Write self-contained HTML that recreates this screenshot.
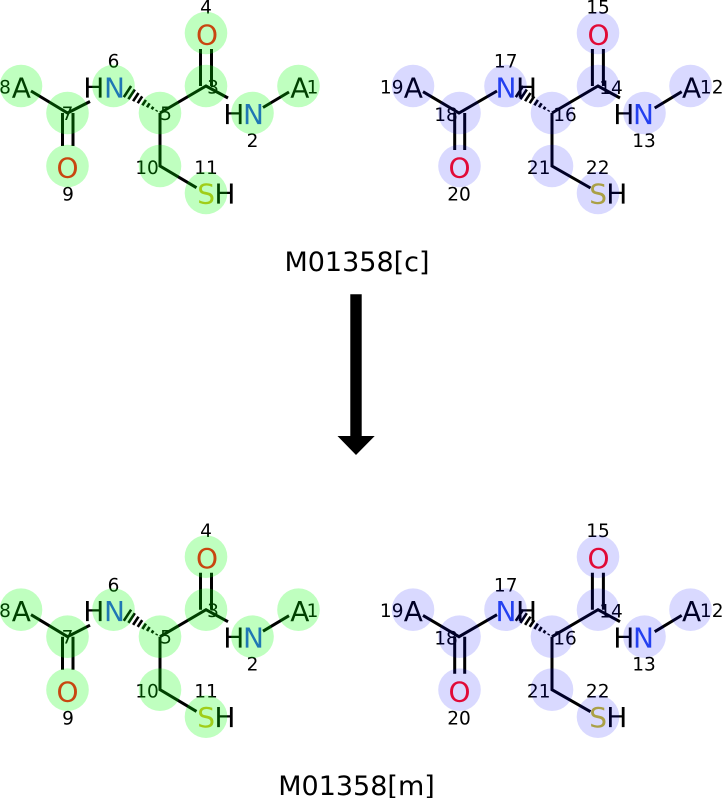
<!DOCTYPE html>
<html><head><meta charset="utf-8"><style>
html,body{margin:0;padding:0;background:#fff}
svg{display:block}
text{font-family:"DejaVu Sans","Liberation Sans",sans-serif}
.l{font-size:28px}.n{font-size:18.5px;text-anchor:middle}
.t{font-size:27px;text-anchor:middle}
.b{stroke:#000;stroke-width:3;fill:none}
.h{stroke:#000;stroke-width:2.6;fill:none}
.g circle{fill:rgba(0,255,0,.25)}
.p circle{fill:rgba(0,0,255,.15)}
</style></head><body>
<svg width="722" height="798" viewBox="0 0 722 798" xmlns="http://www.w3.org/2000/svg">
<rect width="722" height="798" fill="#fff"/>

<!-- top left -->
<g class="g">
<path class="b" d="M31 91L67.5 113L90 101.5M62.5 113V146M73 113V146M160 113L206 86L228 98M200.5 49V86M211.5 49V86M263 107.5L289 92M160 113V166L196.5 187.7"/>
<path class="h" d="M157 110.2L156.3 111.4M153.3 106.8L151.7 109.3M149.6 103.3L147 107.3M145.9 99.9L142.4 105.3M142.2 96.4L137.7 103.2M138.5 93L133.1 101.2M134.8 89.5L128.4 99.2M131.1 86L123.8 97.1"/>
<text class="l" x="11.7" y="97.3">A</text><text class="l" x="83.3" y="97.3">H</text><text class="l" x="223.3" y="124">H</text><text class="l" x="290.2" y="97.3">A</text><text class="l" x="214.4" y="203.5">H</text>
<text class="n" x="206" y="13.3">4</text><text class="n" x="113.5" y="67.7">6</text><text class="n" x="5" y="93.3">8</text><text class="n" x="67.5" y="120">7</text><text class="n" x="213" y="93.3">3</text><text class="n" x="166" y="120">5</text><text class="n" x="312.5" y="93.3">1</text><text class="n" x="252.5" y="147">2</text><text class="n" x="68" y="200.7">9</text><text class="n" x="147" y="174">10</text><text class="n" x="206" y="174">11</text>
<circle cx="206" cy="33" r="21.3"/><circle cx="206" cy="86" r="21.3"/><circle cx="298.5" cy="86" r="21.3"/><circle cx="252.5" cy="113" r="21.3"/><circle cx="160" cy="113" r="21.3"/><circle cx="113.5" cy="86" r="21.3"/><circle cx="67.5" cy="113" r="21.3"/><circle cx="21" cy="86" r="21.3"/><circle cx="67.5" cy="166" r="21.3"/><circle cx="160" cy="166" r="21.3"/><circle cx="206" cy="193" r="21.3"/>
<text class="l" x="104" y="97.3" fill="#1f77b4">N</text><text class="l" x="243" y="124" fill="#1f77b4">N</text><text class="l" x="196" y="44.3" fill="#c84610">O</text><text class="l" x="56.5" y="177.7" fill="#c84610">O</text><text class="l" x="197.3" y="203.5" fill="#a0cd19">S</text>
</g>

<!-- top right -->
<g class="p">
<path class="b" d="M423 91.7L459 113L497 91M454.7 113V150M464.7 113V150M552 113L598 86L620 98M592.4 49V86M603.4 49V86M654.7 108L681.7 91.7M552 113V166L590.5 188"/>
<path class="h" d="M549 110.2L548.3 111.4M545.3 106.8L543.7 109.3M541.6 103.3L539 107.3M537.9 99.9L534.4 105.3M534.2 96.4L529.7 103.2M530.5 93L525.1 101.2M526.8 89.5L520.4 99.2M523.1 86L515.8 97.1"/>
<text class="l" x="403.7" y="97.3">A</text><text class="l" x="516" y="97.3">H</text><text class="l" x="613.3" y="124">H</text><text class="l" x="682" y="97.3">A</text><text class="l" x="606.3" y="203.5">H</text>
<text class="n" x="598" y="13.3">15</text><text class="n" x="505.7" y="67.7">17</text><text class="n" x="391.7" y="93.3">19</text><text class="n" x="446" y="121">18</text><text class="n" x="611" y="94">14</text><text class="n" x="565" y="121">16</text><text class="n" x="711.7" y="93.3">12</text><text class="n" x="644" y="147">13</text><text class="n" x="459" y="200.7">20</text><text class="n" x="538.7" y="174">21</text><text class="n" x="597.7" y="174">22</text>
<circle cx="598" cy="33" r="21.3"/><circle cx="598" cy="86" r="21.3"/><circle cx="690.5" cy="86" r="21.3"/><circle cx="644.5" cy="113" r="21.3"/><circle cx="552" cy="113" r="21.3"/><circle cx="505.5" cy="86" r="21.3"/><circle cx="459.5" cy="113" r="21.3"/><circle cx="413" cy="86" r="21.3"/><circle cx="459.5" cy="166" r="21.3"/><circle cx="552" cy="166" r="21.3"/><circle cx="598" cy="193" r="21.3"/>
<text class="l" x="495.5" y="97.3" fill="#2440f0">N</text><text class="l" x="633" y="124" fill="#2440f0">N</text><text class="l" x="587.5" y="44.3" fill="#e10a37">O</text><text class="l" x="448.5" y="177.7" fill="#e10a37">O</text><text class="l" x="589.3" y="203.5" fill="#aaa046">S</text>
</g>

<text class="t" x="357" y="271">M01358[c]</text>
<path d="M350.3 294.3H361.7V436H374.7L356 455L337.5 436H350.3Z" fill="#000"/>

<!-- bottom left -->
<g class="g" transform="translate(0,523.7)">
<path class="b" d="M31 91L67.5 113L90 101.5M62.5 113V146M73 113V146M160 113L206 86L228 98M200.5 49V86M211.5 49V86M263 107.5L289 92M160 113V166L196.5 187.7"/>
<path class="h" d="M157 110.2L156.3 111.4M153.3 106.8L151.7 109.3M149.6 103.3L147 107.3M145.9 99.9L142.4 105.3M142.2 96.4L137.7 103.2M138.5 93L133.1 101.2M134.8 89.5L128.4 99.2M131.1 86L123.8 97.1"/>
<text class="l" x="11.7" y="97.3">A</text><text class="l" x="83.3" y="97.3">H</text><text class="l" x="223.3" y="124">H</text><text class="l" x="290.2" y="97.3">A</text><text class="l" x="214.4" y="203.5">H</text>
<text class="n" x="206" y="13.3">4</text><text class="n" x="113.5" y="67.7">6</text><text class="n" x="5" y="93.3">8</text><text class="n" x="67.5" y="120">7</text><text class="n" x="213" y="93.3">3</text><text class="n" x="166" y="120">5</text><text class="n" x="312.5" y="93.3">1</text><text class="n" x="252.5" y="147">2</text><text class="n" x="68" y="200.7">9</text><text class="n" x="147" y="174">10</text><text class="n" x="206" y="174">11</text>
<circle cx="206" cy="33" r="21.3"/><circle cx="206" cy="86" r="21.3"/><circle cx="298.5" cy="86" r="21.3"/><circle cx="252.5" cy="113" r="21.3"/><circle cx="160" cy="113" r="21.3"/><circle cx="113.5" cy="86" r="21.3"/><circle cx="67.5" cy="113" r="21.3"/><circle cx="21" cy="86" r="21.3"/><circle cx="67.5" cy="166" r="21.3"/><circle cx="160" cy="166" r="21.3"/><circle cx="206" cy="193" r="21.3"/>
<text class="l" x="104" y="97.3" fill="#1f77b4">N</text><text class="l" x="243" y="124" fill="#1f77b4">N</text><text class="l" x="196" y="44.3" fill="#c84610">O</text><text class="l" x="56.5" y="177.7" fill="#c84610">O</text><text class="l" x="197.3" y="203.5" fill="#a0cd19">S</text>
</g>

<!-- bottom right -->
<g class="p" transform="translate(0,523.7)">
<path class="b" d="M423 91.7L459 113L497 91M454.7 113V150M464.7 113V150M552 113L598 86L620 98M592.4 49V86M603.4 49V86M654.7 108L681.7 91.7M552 113V166L590.5 188"/>
<path class="h" d="M549 110.2L548.3 111.4M545.3 106.8L543.7 109.3M541.6 103.3L539 107.3M537.9 99.9L534.4 105.3M534.2 96.4L529.7 103.2M530.5 93L525.1 101.2M526.8 89.5L520.4 99.2M523.1 86L515.8 97.1"/>
<text class="l" x="403.7" y="97.3">A</text><text class="l" x="516" y="97.3">H</text><text class="l" x="613.3" y="124">H</text><text class="l" x="682" y="97.3">A</text><text class="l" x="606.3" y="203.5">H</text>
<text class="n" x="598" y="13.3">15</text><text class="n" x="505.7" y="67.7">17</text><text class="n" x="391.7" y="93.3">19</text><text class="n" x="446" y="121">18</text><text class="n" x="611" y="94">14</text><text class="n" x="565" y="121">16</text><text class="n" x="711.7" y="93.3">12</text><text class="n" x="644" y="147">13</text><text class="n" x="459" y="200.7">20</text><text class="n" x="538.7" y="174">21</text><text class="n" x="597.7" y="174">22</text>
<circle cx="598" cy="33" r="21.3"/><circle cx="598" cy="86" r="21.3"/><circle cx="690.5" cy="86" r="21.3"/><circle cx="644.5" cy="113" r="21.3"/><circle cx="552" cy="113" r="21.3"/><circle cx="505.5" cy="86" r="21.3"/><circle cx="459.5" cy="113" r="21.3"/><circle cx="413" cy="86" r="21.3"/><circle cx="459.5" cy="166" r="21.3"/><circle cx="552" cy="166" r="21.3"/><circle cx="598" cy="193" r="21.3"/>
<text class="l" x="495.5" y="97.3" fill="#2440f0">N</text><text class="l" x="633" y="124" fill="#2440f0">N</text><text class="l" x="587.5" y="44.3" fill="#e10a37">O</text><text class="l" x="448.5" y="177.7" fill="#e10a37">O</text><text class="l" x="589.3" y="203.5" fill="#aaa046">S</text>
</g>

<text class="t" x="356.5" y="795">M01358[m]</text>
</svg>
</body></html>
